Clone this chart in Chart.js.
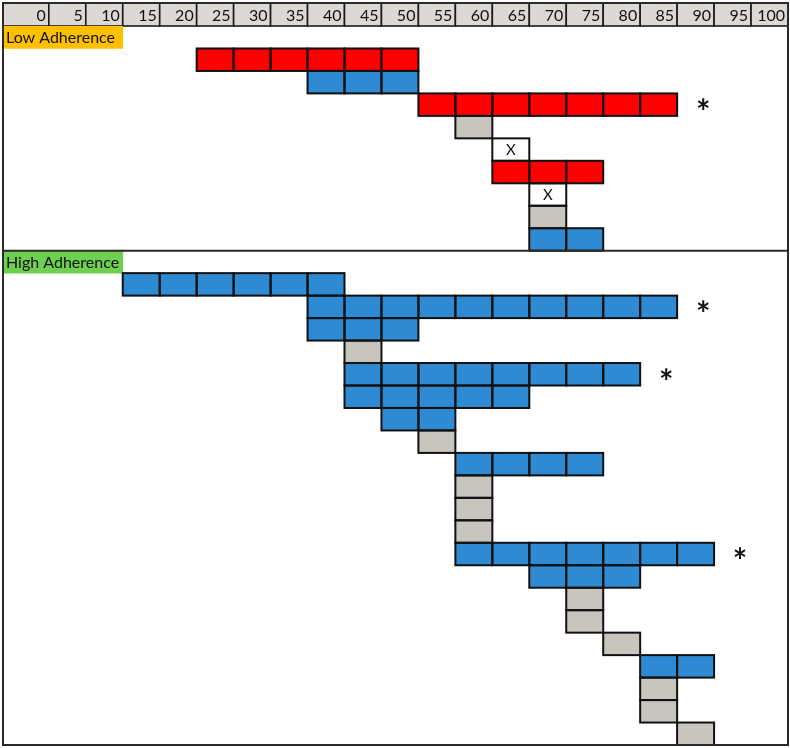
<!DOCTYPE html>
<html><head><meta charset="utf-8">
<script src="https://cdn.jsdelivr.net/npm/chart.js@4/dist/chart.umd.min.js"></script>
<style>html,body{margin:0;padding:0;background:#fff}</style>
</head><body>
<canvas id="c" width="790" height="748"></canvas>
<script>
// ---- data ----
const tickLabels = [0,5,10,15,20,25,30,35,40,45,50,55,60,65,70,75,80,85,90,95,100];
const groupNames = ['Low Adherence','High Adherence'];
const groupLabelEnd = 10;

const lowFirst = [25,40,55,60,65,65,70,70,70];
const lowLast  = [50,50,85,60,65,75,70,70,75];
const lowKind  = ['red','blue','red','grey','x','red','x','grey','blue'];
const lowStar  = [0,0,1,0,0,0,0,0,0];

const highFirst = [15,40,40,45,45,45,50,55,60,60,60,60,60,70,75,75,80,85,85,85,90];
const highLast  = [40,85,50,45,80,65,55,55,75,60,60,60,90,80,75,75,80,90,85,85,90];
const highKind  = ['blue','blue','blue','grey','blue','blue','blue','grey','blue','grey','grey','grey','blue','blue','grey','grey','grey','blue','grey','grey','grey'];
const highStar  = [0,1,0,0,1,0,0,0,0,0,0,0,1,0,0,0,0,0,0,0,0];

// ---- styles ----
const palette = {red:'#ff0000', blue:'#2e8bd3', grey:'#c8c5bf', x:'#ffffff'};
const groupColors = ['#ffc000','#6fcf50'];
const CELL = 5;
const X_MIN = -6.2;
const FONT = 'Lato, "Open Sans", sans-serif';

// ---- build rows ----
const rows = [];
function addGroup(g, first, last, kind, star){
  rows.push({group:g});
  first.forEach((f,i)=>rows.push({first:f,last:last[i],kind:kind[i],star:star[i]}));
}
addGroup(0, lowFirst, lowLast, lowKind, lowStar);
addGroup(1, highFirst, highLast, highKind, highStar);
const rowIds = rows.map((r,i)=> r.group!==undefined ? groupNames[r.group] : 'row'+i);

const datasets = tickLabels.map(col => ({
  label:'col'+col,
  data: rows.map(r => (r.kind && col>=r.first && col<=r.last) ? [col-CELL, col] : null),
  backgroundColor: rows.map(r => r.kind ? palette[r.kind] : 'transparent'),
  kindCells:true
}));
datasets.push({
  label:'groups',
  data: rows.map(r => r.group!==undefined ? [X_MIN, groupLabelEnd] : null),
  backgroundColor: rows.map(r => r.group!==undefined ? groupColors[r.group] : 'transparent'),
  kindCells:false
});
datasets.forEach(d=>{ d.borderWidth=0; d.barPercentage=1; d.categoryPercentage=1; d.grouped=false; });

const gridPlugin = {
  id:'gridPlugin',
  beforeDraw(chart){
    const {ctx, chartArea} = chart; const x = chart.scales.x;
    ctx.save();
    tickLabels.forEach((v,i)=>{
      const l = i===0 ? chartArea.left : x.getPixelForValue(v-CELL);
      const r = x.getPixelForValue(v);
      ctx.fillStyle='#dcd9d4'; ctx.fillRect(l, x.top, r-l, x.bottom-x.top);
      ctx.strokeStyle='#1a1a1a'; ctx.lineWidth=1.6; ctx.strokeRect(l, x.top, r-l, x.bottom-x.top);
      ctx.fillStyle='#111'; ctx.font='16px '+FONT; ctx.textAlign='right'; ctx.textBaseline='middle';
      ctx.fillText(String(v), r-3, (x.top+x.bottom)/2+1);
    });
    ctx.restore();
  },
  afterDatasetsDraw(chart){
    const {ctx} = chart; const x = chart.scales.x; const y = chart.scales.y;
    ctx.save();
    chart.data.datasets.forEach((ds,i)=>{
      const meta = chart.getDatasetMeta(i);
      meta.data.forEach((el,j)=>{
        if (ds.data[j]==null) return;
        const p = el.getProps(['x','base','y','height'], true);
        const l = Math.min(p.x,p.base), w = Math.abs(p.x-p.base), t = p.y-p.height/2;
        if (ds.kindCells){
          ctx.strokeStyle='#111'; ctx.lineWidth=2; ctx.strokeRect(l,t,w,p.height);
          if (rows[j].kind==='x'){
            ctx.fillStyle='#111'; ctx.font='15px '+FONT; ctx.textAlign='center'; ctx.textBaseline='middle';
            ctx.fillText('X', l+w/2, p.y+1);
          }
        } else {
          ctx.fillStyle='#111'; ctx.font='16px '+FONT; ctx.textAlign='left'; ctx.textBaseline='middle';
          ctx.fillText(groupNames[rows[j].group], l+3, p.y+1);
        }
      });
    });
    rows.forEach((r,j)=>{
      if (!r.star) return;
      const px = x.getPixelForValue(r.last) + 26;
      const size = 34;
      ctx.fillStyle='#111'; ctx.font='bold '+size+'px '+FONT; ctx.textAlign='center'; ctx.textBaseline='alphabetic';
      ctx.fillText('*', px, y.getPixelForValue(j)+0.57*size);
    });
    ctx.restore();
  },
  afterDraw(chart){
    const {ctx, chartArea} = chart; const x = chart.scales.x; const y = chart.scales.y;
    ctx.save();
    ctx.strokeStyle='#2a2a2a'; ctx.lineWidth=2;
    ctx.strokeRect(chartArea.left, x.top, chartArea.right-chartArea.left, chartArea.bottom-x.top);
    const hi = rows.findIndex(r=>r.group===1);
    const sy = (y.getPixelForValue(hi-1)+y.getPixelForValue(hi))/2;
    ctx.beginPath(); ctx.moveTo(chartArea.left, sy); ctx.lineTo(chartArea.right, sy); ctx.stroke();
    ctx.restore();
  }
};

new Chart(document.getElementById('c'), {
  type:'bar',
  data:{labels:rowIds, datasets},
  options:{
    indexAxis:'y',
    responsive:false,
    animation:false,
    layout:{padding:{left:3,right:2,top:3,bottom:3}},
    plugins:{legend:{display:false}, tooltip:{enabled:false}},
    scales:{
      x:{
        type:'linear', position:'top', min:X_MIN, max:100,
        grid:{display:false}, border:{display:false},
        afterBuildTicks(s){ s.ticks = tickLabels.map(v=>({value:v})); },
        afterFit(s){ s.height = 23; },
        ticks:{ display:false }
      },
      y:{ type:'category', display:false, grid:{display:false} }
    }
  },
  plugins:[gridPlugin]
});
</script>
</body></html>
